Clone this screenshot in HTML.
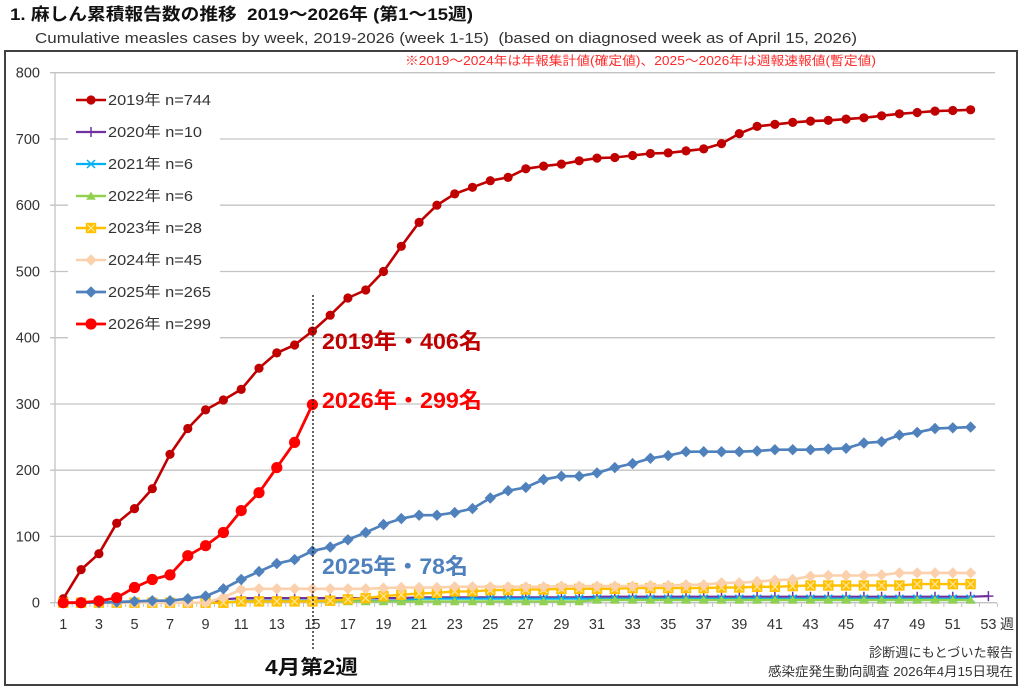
<!DOCTYPE html>
<html><head><meta charset="utf-8"><style>
html,body{margin:0;padding:0;background:#fff;}
svg{display:block;}
text{font-family:"Liberation Sans","Noto Sans CJK JP",sans-serif;}
</style></head><body>
<svg width="1024" height="695" viewBox="0 0 1024 695" xmlns="http://www.w3.org/2000/svg">
<defs>
<marker id="m19" markerWidth="12" markerHeight="12" refX="6" refY="6" markerUnits="userSpaceOnUse" overflow="visible"><circle cx="6" cy="6" r="4.6" fill="#C00000"/></marker>
<marker id="m20" markerWidth="12" markerHeight="12" refX="6" refY="6" markerUnits="userSpaceOnUse" overflow="visible"><path d="M1 6H11M6 1V11" stroke="#7030A0" stroke-width="1.5" fill="none"/></marker>
<marker id="m21" markerWidth="12" markerHeight="12" refX="6" refY="6" markerUnits="userSpaceOnUse" overflow="visible"><path d="M2 2L10 10M10 2L2 10" stroke="#00B0F0" stroke-width="1.5" fill="none"/></marker>
<marker id="m22" markerWidth="12" markerHeight="12" refX="6" refY="6" markerUnits="userSpaceOnUse" overflow="visible"><path d="M6 1.5L10.8 9.8H1.2Z" fill="#92D050"/></marker>
<marker id="m23" markerWidth="12" markerHeight="12" refX="6" refY="6" markerUnits="userSpaceOnUse" overflow="visible"><rect x="0.8" y="0.8" width="10.4" height="10.4" fill="#FFC000"/><path d="M2.5 2.5L9.5 9.5M9.5 2.5L2.5 9.5" stroke="#FFE9A8" stroke-width="1.1" fill="none"/></marker>
<marker id="m24" markerWidth="12" markerHeight="12" refX="6" refY="6" markerUnits="userSpaceOnUse" overflow="visible"><path d="M6 0.3L11.7 6L6 11.7L0.3 6Z" fill="#FBD0AC"/></marker>
<marker id="m25" markerWidth="12" markerHeight="12" refX="6" refY="6" markerUnits="userSpaceOnUse" overflow="visible"><path d="M6 0.3L11.7 6L6 11.7L0.3 6Z" fill="#4F81BD"/></marker>
<marker id="m26" markerWidth="14" markerHeight="14" refX="7" refY="7" markerUnits="userSpaceOnUse" overflow="visible"><circle cx="7" cy="7" r="5.6" fill="#FF0000"/></marker>
</defs>

<!-- titles -->
<text x="10" y="20" font-size="17" font-weight="bold" fill="#111" textLength="463" lengthAdjust="spacingAndGlyphs" xml:space="preserve">1. 麻しん累積報告数の推移  2019～2026年 (第1～15週)</text>
<text x="35" y="43" font-size="14.5" fill="#333" textLength="822" lengthAdjust="spacingAndGlyphs" xml:space="preserve">Cumulative measles cases by week, 2019-2026 (week 1-15)  (based on diagnosed week as of April 15, 2026)</text>

<!-- frame -->
<rect x="5" y="51" width="1012" height="634" fill="#fff" stroke="#404040" stroke-width="2"/>

<text x="405" y="65" font-size="12.5" fill="#FF2A2A" textLength="471" lengthAdjust="spacingAndGlyphs">※2019～2024年は年報集計値(確定値)、2025～2026年は週報速報値(暫定値)</text>

<!-- gridlines -->
<g stroke="#C3C3C3" stroke-width="1.3">
<line x1="50" y1="72.7" x2="995" y2="72.7"/>
<line x1="50" y1="139.0" x2="995" y2="139.0"/>
<line x1="50" y1="205.2" x2="995" y2="205.2"/>
<line x1="50" y1="271.5" x2="995" y2="271.5"/>
<line x1="50" y1="337.7" x2="995" y2="337.7"/>
<line x1="50" y1="404.0" x2="995" y2="404.0"/>
<line x1="50" y1="470.2" x2="995" y2="470.2"/>
<line x1="50" y1="536.4" x2="995" y2="536.4"/>
<line x1="50" y1="602.7" x2="997" y2="602.7"/>
<line x1="55" y1="72.7" x2="55" y2="602.7"/>
</g>
<path stroke="#C3C3C3" stroke-width="1" fill="none" d="M54.4 603V607M72.2 603V607M90.0 603V607M107.8 603V607M125.6 603V607M143.4 603V607M161.1 603V607M178.9 603V607M196.7 603V607M214.5 603V607M232.3 603V607M250.1 603V607M267.9 603V607M285.7 603V607M303.5 603V607M321.3 603V607M339.0 603V607M356.8 603V607M374.6 603V607M392.4 603V607M410.2 603V607M428.0 603V607M445.8 603V607M463.6 603V607M481.4 603V607M499.2 603V607M516.9 603V607M534.7 603V607M552.5 603V607M570.3 603V607M588.1 603V607M605.9 603V607M623.7 603V607M641.5 603V607M659.3 603V607M677.1 603V607M694.8 603V607M712.6 603V607M730.4 603V607M748.2 603V607M766.0 603V607M783.8 603V607M801.6 603V607M819.4 603V607M837.2 603V607M855.0 603V607M872.7 603V607M890.5 603V607M908.3 603V607M926.1 603V607M943.9 603V607M961.7 603V607M979.5 603V607M997.3 603V607"/>

<!-- y labels -->
<g font-size="14.5" fill="#333" text-anchor="end">
<text x="40" y="77.7">800</text>
<text x="40" y="144">700</text>
<text x="40" y="210.2">600</text>
<text x="40" y="276.5">500</text>
<text x="40" y="342.7">400</text>
<text x="40" y="409">300</text>
<text x="40" y="475.2">200</text>
<text x="40" y="541.4">100</text>
<text x="40" y="607.7">0</text>
</g>

<!-- x labels -->
<g font-size="14.5" fill="#333" text-anchor="middle">
<text x="63.3" y="629">1</text><text x="98.9" y="629">3</text><text x="134.5" y="629">5</text><text x="170.0" y="629">7</text><text x="205.6" y="629">9</text><text x="241.2" y="629">11</text><text x="276.8" y="629">13</text><text x="312.4" y="629">15</text><text x="347.9" y="629">17</text><text x="383.5" y="629">19</text><text x="419.1" y="629">21</text><text x="454.7" y="629">23</text><text x="490.3" y="629">25</text><text x="525.8" y="629">27</text><text x="561.4" y="629">29</text><text x="597.0" y="629">31</text><text x="632.6" y="629">33</text><text x="668.2" y="629">35</text><text x="703.7" y="629">37</text><text x="739.3" y="629">39</text><text x="774.9" y="629">41</text><text x="810.5" y="629">43</text><text x="846.1" y="629">45</text><text x="881.6" y="629">47</text><text x="917.2" y="629">49</text><text x="952.8" y="629">51</text><text x="988.4" y="629">53</text>
</g>
<text x="1000" y="629" font-size="14" fill="#333">週</text>

<!-- series -->
<g fill="none" stroke-linejoin="round">
<polyline stroke="#C00000" stroke-width="2.6" marker-start="url(#m19)" marker-mid="url(#m19)" marker-end="url(#m19)" points="63.3,598.7 81.1,569.6 98.9,553.7 116.7,523.2 134.5,508.6 152.3,488.7 170.0,454.3 187.8,428.5 205.6,409.9 223.4,400.0 241.2,389.4 259.0,368.2 276.8,352.9 294.6,345.0 312.4,331.1 330.2,315.2 347.9,298.0 365.7,290.0 383.5,271.5 401.3,246.3 419.1,222.4 436.9,205.2 454.7,193.9 472.5,187.3 490.3,180.7 508.1,177.4 525.8,168.8 543.6,166.1 561.4,164.1 579.2,160.8 597.0,158.1 614.8,157.5 632.6,155.5 650.4,153.5 668.2,152.9 686.0,150.9 703.7,148.9 721.5,143.6 739.3,133.6 757.1,126.4 774.9,124.4 792.7,122.4 810.5,121.1 828.3,120.4 846.1,119.1 863.9,117.8 881.6,115.8 899.4,113.8 917.2,112.5 935.0,111.1 952.8,110.5 970.6,109.8"/>

<polyline stroke="#7030A0" stroke-width="2.2" marker-start="url(#m20)" marker-mid="url(#m20)" marker-end="url(#m20)" points="63.3,602.7 81.1,602.7 98.9,602.7 116.7,602.7 134.5,602.7 152.3,602.7 170.0,602.7 187.8,602.7 205.6,602.7 223.4,599.4 241.2,598.1 259.0,598.1 276.8,598.1 294.6,598.1 312.4,598.1 330.2,598.1 347.9,598.1 365.7,598.1 383.5,598.1 401.3,598.1 419.1,597.4 436.9,597.4 454.7,597.4 472.5,597.4 490.3,597.4 508.1,597.4 525.8,597.4 543.6,597.4 561.4,597.4 579.2,597.4 597.0,596.7 614.8,596.7 632.6,596.7 650.4,596.7 668.2,596.7 686.0,596.7 703.7,596.7 721.5,596.7 739.3,596.7 757.1,596.7 774.9,596.7 792.7,596.7 810.5,596.7 828.3,596.7 846.1,596.7 863.9,596.7 881.6,596.7 899.4,596.7 917.2,596.7 935.0,596.7 952.8,596.7 970.6,596.7 988.4,596.1"/>

<polyline stroke="#00B0F0" stroke-width="2.2" marker-start="url(#m21)" marker-mid="url(#m21)" marker-end="url(#m21)" points="63.3,602.7 81.1,602.7 98.9,602.7 116.7,602.7 134.5,602.7 152.3,602.7 170.0,602.7 187.8,602.7 205.6,602.7 223.4,602.7 241.2,600.7 259.0,600.7 276.8,600.7 294.6,600.7 312.4,600.7 330.2,600.7 347.9,600.7 365.7,600.7 383.5,600.7 401.3,600.7 419.1,598.7 436.9,598.7 454.7,598.7 472.5,598.7 490.3,598.7 508.1,598.7 525.8,598.7 543.6,598.7 561.4,598.7 579.2,598.7 597.0,598.7 614.8,598.7 632.6,598.7 650.4,598.7 668.2,598.7 686.0,598.7 703.7,598.7 721.5,598.7 739.3,598.7 757.1,598.7 774.9,598.7 792.7,598.7 810.5,598.7 828.3,598.7 846.1,598.7 863.9,598.7 881.6,598.7 899.4,598.7 917.2,598.7 935.0,598.7 952.8,598.7 970.6,598.7"/>

<polyline stroke="#92D050" stroke-width="2.4" marker-start="url(#m22)" marker-mid="url(#m22)" marker-end="url(#m22)" points="63.3,602.7 81.1,602.7 98.9,602.7 116.7,602.7 134.5,602.7 152.3,602.7 170.0,602.7 187.8,602.7 205.6,602.7 223.4,602.7 241.2,601.4 259.0,601.4 276.8,601.4 294.6,601.4 312.4,601.4 330.2,601.4 347.9,601.4 365.7,601.4 383.5,601.4 401.3,601.4 419.1,601.4 436.9,601.4 454.7,601.4 472.5,601.4 490.3,601.4 508.1,601.4 525.8,601.4 543.6,601.4 561.4,601.4 579.2,601.4 597.0,600.0 614.8,600.0 632.6,600.0 650.4,600.0 668.2,600.0 686.0,600.0 703.7,600.0 721.5,600.0 739.3,600.0 757.1,600.0 774.9,600.0 792.7,600.0 810.5,600.0 828.3,600.0 846.1,600.0 863.9,600.0 881.6,600.0 899.4,600.0 917.2,600.0 935.0,600.0 952.8,600.0 970.6,600.0"/>

<polyline stroke="#FFC000" stroke-width="2.4" marker-start="url(#m23)" marker-mid="url(#m23)" marker-end="url(#m23)" points="63.3,602.7 81.1,602.7 98.9,602.7 116.7,602.7 134.5,602.7 152.3,602.7 170.0,602.7 187.8,602.7 205.6,602.7 223.4,602.7 241.2,601.4 259.0,601.4 276.8,601.4 294.6,601.4 312.4,601.4 330.2,600.7 347.9,599.4 365.7,598.1 383.5,596.1 401.3,594.8 419.1,593.4 436.9,592.8 454.7,591.4 472.5,591.4 490.3,590.1 508.1,590.1 525.8,589.5 543.6,589.5 561.4,588.8 579.2,588.8 597.0,588.8 614.8,588.8 632.6,588.1 650.4,588.1 668.2,588.1 686.0,588.1 703.7,588.1 721.5,587.5 739.3,587.5 757.1,586.8 774.9,586.8 792.7,586.1 810.5,585.5 828.3,585.5 846.1,585.5 863.9,585.5 881.6,585.5 899.4,585.5 917.2,584.1 935.0,584.1 952.8,584.1 970.6,584.1"/>

<polyline stroke="#FBD0AC" stroke-width="2.6" marker-start="url(#m24)" marker-mid="url(#m24)" marker-end="url(#m24)" points="63.3,602.7 81.1,602.7 98.9,602.7 116.7,602.7 134.5,602.7 152.3,602.7 170.0,602.7 187.8,602.7 205.6,602.7 223.4,597.4 241.2,589.5 259.0,588.8 276.8,588.8 294.6,588.8 312.4,588.8 330.2,588.8 347.9,588.8 365.7,588.8 383.5,588.1 401.3,587.5 419.1,587.5 436.9,587.5 454.7,586.8 472.5,586.8 490.3,586.8 508.1,586.8 525.8,586.8 543.6,586.8 561.4,586.1 579.2,586.1 597.0,586.1 614.8,586.1 632.6,586.1 650.4,585.5 668.2,585.5 686.0,584.8 703.7,584.8 721.5,582.8 739.3,582.8 757.1,581.5 774.9,580.2 792.7,579.5 810.5,576.2 828.3,575.5 846.1,575.5 863.9,575.5 881.6,574.9 899.4,572.9 917.2,572.9 935.0,572.9 952.8,572.9 970.6,572.9"/>

<polyline stroke="#4F81BD" stroke-width="2.7" marker-start="url(#m25)" marker-mid="url(#m25)" marker-end="url(#m25)" points="63.3,602.7 81.1,602.7 98.9,602.7 116.7,602.0 134.5,601.4 152.3,600.7 170.0,600.7 187.8,598.7 205.6,596.1 223.4,588.8 241.2,579.5 259.0,571.6 276.8,563.6 294.6,559.6 312.4,551.0 330.2,547.1 347.9,539.8 365.7,532.5 383.5,524.5 401.3,518.6 419.1,515.2 436.9,515.2 454.7,512.6 472.5,508.6 490.3,498.0 508.1,490.7 525.8,487.4 543.6,479.5 561.4,476.2 579.2,476.2 597.0,472.9 614.8,467.6 632.6,463.6 650.4,458.3 668.2,455.6 686.0,451.7 703.7,451.7 721.5,451.7 739.3,451.7 757.1,451.0 774.9,449.7 792.7,449.7 810.5,449.7 828.3,449.0 846.1,448.3 863.9,443.0 881.6,441.7 899.4,435.1 917.2,432.4 935.0,428.5 952.8,427.8 970.6,427.1"/>

<polyline stroke="#FF0000" stroke-width="2.8" marker-start="url(#m26)" marker-mid="url(#m26)" marker-end="url(#m26)" points="63.3,602.7 81.1,602.7 98.9,601.0 116.7,597.7 134.5,587.5 152.3,579.5 170.0,574.9 187.8,555.7 205.6,545.7 223.4,532.5 241.2,510.6 259.0,492.7 276.8,467.6 294.6,442.4 312.4,404.6"/>
</g>

<!-- dotted marker line -->
<line x1="313" y1="295" x2="313" y2="650" stroke="#222" stroke-width="1.4" stroke-dasharray="2,2"/>

<!-- legend -->
<rect x="68" y="81" width="152" height="262" fill="#fff"/>
<g fill="none">
<polyline points="76,100 91,100 106,100" stroke="#C00000" stroke-width="2.6" marker-mid="url(#m19)"/>
<polyline points="76,132 91,132 106,132" stroke="#7030A0" stroke-width="2.2" marker-mid="url(#m20)"/>
<polyline points="76,164 91,164 106,164" stroke="#00B0F0" stroke-width="2.2" marker-mid="url(#m21)"/>
<polyline points="76,196 91,196 106,196" stroke="#92D050" stroke-width="2.4" marker-mid="url(#m22)"/>
<polyline points="76,228 91,228 106,228" stroke="#FFC000" stroke-width="2.4" marker-mid="url(#m23)"/>
<polyline points="76,260 91,260 106,260" stroke="#FBD0AC" stroke-width="2.6" marker-mid="url(#m24)"/>
<polyline points="76,292 91,292 106,292" stroke="#4F81BD" stroke-width="2.7" marker-mid="url(#m25)"/>
<polyline points="76,324 91,324 106,324" stroke="#FF0000" stroke-width="2.8" marker-mid="url(#m26)"/>
</g>
<g font-size="14.5" fill="#333">
<text x="108" y="105" textLength="103" lengthAdjust="spacingAndGlyphs">2019年 n=744</text>
<text x="108" y="137" textLength="94" lengthAdjust="spacingAndGlyphs">2020年 n=10</text>
<text x="108" y="169" textLength="85" lengthAdjust="spacingAndGlyphs">2021年 n=6</text>
<text x="108" y="201" textLength="85" lengthAdjust="spacingAndGlyphs">2022年 n=6</text>
<text x="108" y="233" textLength="94" lengthAdjust="spacingAndGlyphs">2023年 n=28</text>
<text x="108" y="265" textLength="94" lengthAdjust="spacingAndGlyphs">2024年 n=45</text>
<text x="108" y="297" textLength="103" lengthAdjust="spacingAndGlyphs">2025年 n=265</text>
<text x="108" y="329" textLength="103" lengthAdjust="spacingAndGlyphs">2026年 n=299</text>
</g>

<!-- annotations -->
<text x="322" y="349" font-size="22" font-weight="bold" fill="#C00000" textLength="160" lengthAdjust="spacingAndGlyphs">2019年・406名</text>
<text x="322" y="408" font-size="22" font-weight="bold" fill="#FF0000" textLength="160" lengthAdjust="spacingAndGlyphs">2026年・299名</text>
<text x="322" y="574" font-size="22" font-weight="bold" fill="#4F81BD" textLength="146" lengthAdjust="spacingAndGlyphs">2025年・78名</text>

<text x="265" y="674" font-size="20" font-weight="bold" fill="#111" textLength="93" lengthAdjust="spacingAndGlyphs">4月第2週</text>

<text x="1013" y="657" font-size="13" fill="#333" text-anchor="end" textLength="144" lengthAdjust="spacingAndGlyphs">診断週にもとづいた報告</text>
<text x="1013" y="676" font-size="13" fill="#333" text-anchor="end" textLength="245" lengthAdjust="spacingAndGlyphs">感染症発生動向調査 2026年4月15日現在</text>
</svg>
</body></html>
